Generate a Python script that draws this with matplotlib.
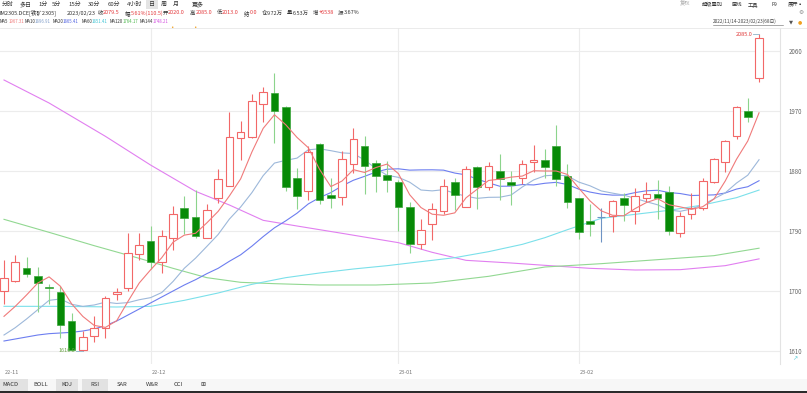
import matplotlib
matplotlib.use('Agg')
import matplotlib.pyplot as plt
from matplotlib.patches import Rectangle

plt.rcParams['font.family'] = ['Noto Sans CJK SC', 'DejaVu Sans']

# IM2305 日线 2022/11/14 - 2023/02/23 (68日)
opens = [1700, 1715, 1735, 1723, 1706, 1698, 1655, 1612, 1632, 1645,
         1695, 1704, 1755, 1775, 1743, 1779, 1825, 1811, 1780, 1839,
         1858, 1929, 1931, 1980, 1997, 1976, 1870, 1850, 1920, 1844,
         1841, 1891, 1917, 1892, 1874, 1864, 1826, 1770, 1801, 1820,
         1863, 1826, 1886, 1856, 1880, 1863, 1869, 1893, 1896, 1918,
         1872, 1839, 1805, 1811, 1813, 1839, 1820, 1840, 1845, 1849,
         1787, 1816, 1825, 1864, 1893, 1933, 1970, 2020]
highs = [1746, 1754, 1751, 1736, 1711, 1708, 1667, 1640, 1662, 1692,
         1704, 1787, 1787, 1797, 1792, 1827, 1842, 1851, 1830, 1883,
         1968, 1955, 1995, 2006, 2027, 1978, 1885, 1917, 1922, 1869,
         1910, 1945, 1933, 1897, 1895, 1866, 1834, 1808, 1832, 1868,
         1869, 1887, 1888, 1893, 1906, 1880, 1896, 1919, 1913, 1949,
         1891, 1840, 1830, 1824, 1836, 1847, 1854, 1864, 1866, 1858,
         1819, 1847, 1869, 1899, 1927, 1977, 1990, 2085]
lows = [1681, 1714, 1721, 1668, 1680, 1629, 1610, 1610, 1624, 1630,
        1686, 1700, 1747, 1733, 1727, 1762, 1785, 1779, 1779, 1832,
        1858, 1897, 1930, 1953, 1922, 1850, 1823, 1836, 1830, 1824,
        1829, 1877, 1845, 1848, 1849, 1790, 1757, 1763, 1777, 1816,
        1822, 1826, 1823, 1852, 1836, 1829, 1860, 1878, 1869, 1857,
        1824, 1778, 1782, 1773, 1788, 1805, 1801, 1833, 1808, 1784,
        1781, 1808, 1822, 1862, 1878, 1928, 1953, 2013]
closes = [1719, 1744, 1726, 1712, 1705, 1649, 1612, 1631, 1645, 1690,
          1699, 1757, 1769, 1743, 1782, 1815, 1810, 1783, 1821, 1868,
          1931, 1938, 1985, 1998, 1970, 1856, 1843, 1908, 1836, 1840,
          1898, 1928, 1887, 1873, 1866, 1826, 1770, 1791, 1823, 1858,
          1844, 1883, 1856, 1888, 1868, 1859, 1891, 1896, 1886, 1868,
          1833, 1789, 1800, 1811, 1835, 1829, 1843, 1845, 1840, 1790,
          1813, 1824, 1865, 1898, 1925, 1976, 1961, 2079.5]

# 均线
ma5 = [1662, 1677, 1694, 1712, 1721.2, 1707.2, 1680.8, 1661.8, 1648.4, 1645.4,
       1655.4, 1684.4, 1712, 1731.6, 1750, 1773.2, 1783.8, 1786.6, 1802.2, 1819.4,
       1842.6, 1868.2, 1908.6, 1944, 1964.4, 1949.4, 1930.4, 1915, 1882.6, 1856.6,
       1865, 1882, 1877.8, 1885.2, 1890.4, 1876, 1844.4, 1825.2, 1815.2, 1813.6,
       1817.2, 1839.8, 1852.8, 1865.8, 1867.8, 1870.8, 1872.4, 1880.4, 1880, 1880,
       1874.8, 1854.4, 1835.2, 1820.2, 1813.6, 1812.8, 1823.6, 1832.6, 1838.4, 1829.4,
       1826.2, 1822.4, 1826.4, 1838, 1865, 1897.6, 1925, 1967.3]
ma10 = [1634, 1645, 1658, 1672, 1686, 1688, 1680, 1677, 1679, 1683.3,
        1681.3, 1682.6, 1686.9, 1690, 1697.7, 1714.3, 1734.1, 1749.3, 1766.9, 1784.7,
        1807.9, 1826, 1847.6, 1873.1, 1891.9, 1896, 1899.3, 1911.8, 1913.3, 1910.5,
        1907.2, 1906.2, 1896.4, 1883.9, 1873.5, 1870.5, 1863.2, 1851.5, 1850.2, 1852,
        1846.6, 1842.1, 1839, 1840.5, 1840.7, 1844, 1856.1, 1866.6, 1872.9, 1873.9,
        1872.8, 1863.4, 1857.8, 1850.1, 1846.8, 1843.8, 1839, 1833.9, 1829.3, 1821.5,
        1819.5, 1823, 1829.5, 1838.2, 1847.2, 1861.9, 1873.7, 1896.9]
ma20 = [1625, 1628, 1631, 1634, 1636, 1637, 1638, 1640, 1643, 1648,
        1655, 1664, 1673, 1682, 1691, 1700, 1709, 1717, 1726, 1734,
        1744.6, 1754.3, 1767.3, 1781.6, 1794.8, 1805.2, 1816.7, 1830.6, 1840.1, 1847.6,
        1857.6, 1866.1, 1872, 1878.5, 1882.7, 1883.3, 1881.3, 1881.7, 1881.8, 1881.3,
        1876.9, 1874.2, 1867.7, 1862.2, 1857.1, 1857.3, 1859.7, 1859.1, 1861.6, 1863,
        1859.7, 1852.8, 1848.4, 1845.3, 1843.8, 1843.9, 1847.6, 1850.3, 1851.1, 1847.7,
        1846.2, 1843.2, 1843.7, 1844.2, 1847, 1852.9, 1856.4, 1865.4]
ma60_idx = [0, 5, 10, 13, 16, 19, 22, 25, 28, 31, 34, 37, 40, 43, 46, 48, 50, 53, 56, 59, 62, 65, 67]
ma60 = [1677, 1677, 1676, 1677, 1686, 1697, 1710, 1720, 1727, 1733, 1738, 1744,
        1750, 1759, 1770, 1780, 1792, 1809, 1815, 1821, 1829, 1840, 1851.4]
ma120_idx = [0, 4, 8, 12, 15, 18, 21, 24, 28, 33, 38, 43, 48, 53, 58, 63, 67]
ma120 = [1807.5, 1788, 1768, 1749, 1734, 1720, 1713, 1711, 1709, 1709, 1712, 1722,
         1736, 1741, 1747, 1753, 1764.2]
ma144_idx = [0, 4, 9, 13, 17, 20, 23, 26, 30, 35, 38, 41, 45, 48, 52, 56, 60, 64, 67]
ma144 = [2016.5, 1982, 1932, 1889, 1849.5, 1829, 1806, 1797.5, 1786.5, 1772.5, 1758,
         1746, 1742, 1738.5, 1734, 1731.5, 1732, 1738, 1748.2]

month_idx = [0, 13, 35, 51]
month_labels = ['22-11', '22-12', '23-01', '23-02']
y_ticks = [1610, 1700, 1790, 1880, 1970, 2060]

RED = '#f26868'
GREEN = '#078a07'
GREEN_WICK = '#8cd48c'
DOJI = '#6e93c4'
C_MA5, C_MA10, C_MA20 = '#f07a7a', '#9db8da', '#6d7ef0'
C_MA60, C_MA120, C_MA144 = '#7be0ea', '#92d892', '#e17ff0'

W, H = 807, 393


def fx(x):
    return x / W


def fy(y):
    return 1 - y / H


fig = plt.figure(figsize=(W / 100, H / 100), dpi=100)
ax = fig.add_axes([0, fy(364), fx(780), (364 - 28) / H])

n = len(closes)
for i in range(n):
    o, h, l, c = opens[i], highs[i], lows[i], closes[i]
    if c > o:
        ax.vlines(i, l, h, color=RED, lw=0.8, zorder=3)
        ax.bar(i, c - o, bottom=o, width=0.68, facecolor='white',
               edgecolor=RED, lw=0.8, zorder=4)
    elif c < o:
        ax.vlines(i, l, h, color=GREEN_WICK, lw=0.8, zorder=3)
        ax.bar(i, o - c, bottom=c, width=0.68, facecolor=GREEN,
               edgecolor='#3aa53a', lw=0.5, zorder=4)
    else:
        ax.vlines(i, l, h, color=DOJI, lw=0.8, zorder=3)
        ax.hlines(c, i - 0.34, i + 0.34, color=DOJI, lw=0.8, zorder=4)

idx = list(range(n))
ax.plot(ma144_idx, ma144, color=C_MA144, lw=0.8, zorder=2)
ax.plot(ma120_idx, ma120, color=C_MA120, lw=0.8, zorder=2)
ax.plot(ma60_idx, ma60, color=C_MA60, lw=0.8, zorder=2)
ax.plot(idx, ma20, color=C_MA20, lw=0.8, zorder=2)
ax.plot(idx, ma10, color=C_MA10, lw=0.8, zorder=2)
ax.plot(idx, ma5, color=C_MA5, lw=0.8, zorder=5)

# 最高/最低标注
ax.text(66.45, max(highs), '%.1f' % max(highs), ha='right', va='center',
        fontsize=4.0, color='#e03b3b', zorder=6)
ax.plot([66.5, 67], [max(highs), max(highs)], color='#8fb3c9', lw=0.6, zorder=6)
ax.text(6.35, min(lows), '%.1f' % min(lows), ha='right', va='center',
        fontsize=4.0, color='#6ea64a', zorder=6)
ax.plot([6.4, 7.0], [min(lows), min(lows)], color='#8fb3c9', lw=0.6, zorder=6)

ax.set_xlim(-0.355, 68.86)
ax.set_ylim(1590.5, 2094.5)
ax.set_yticks(y_ticks)
ax.yaxis.tick_right()
ax.tick_params(axis='y', length=0, pad=6, labelsize=4.4, labelcolor='#666666')
ax.set_xticks([])
for yt in y_ticks:
    ax.axhline(yt, color='#ececec', lw=0.8, zorder=0)
for mi in month_idx[1:]:
    ax.axvline(mi, color='#ececec', lw=0.8, zorder=0)
for s in ['top', 'left', 'bottom']:
    ax.spines[s].set_visible(False)
ax.spines['right'].set_color('#e3e3e3')
ax.spines['right'].set_linewidth(0.8)

for mi, lab in zip(month_idx, month_labels):
    xx = ax.transData.transform((mi, 0))[0] / fig.dpi / fig.get_size_inches()[0]
    fig.text(xx + 0.001, fy(373), lab, fontsize=4.0, color='#777777',
             ha='left', va='center')

# 顶部工具栏
row1 = [('分时', 2), ('多日', 20), ('1分', 38), ('5分', 52), ('15分', 68),
        ('30分', 88), ('60分', 108), ('4小时', 127), ('日', 149), ('周', 161),
        ('月', 173), ('更多', 192)]
fig.patches.append(Rectangle((fx(146), fy(9)), fx(12), 9 / H, transform=fig.transFigure,
                             facecolor='#e4e4e4', edgecolor='none'))
for t, x in row1:
    fig.text(fx(x), fy(4.3), t, fontsize=4.3, color='#333333', ha='left', va='center')
for t, x, col in [('复权', 680, '#aaaaaa'), ('超级叠加', 702, '#333333'), ('画线', 732, '#333333'),
                  ('工具', 748, '#333333'), ('F9', 772, '#333333'), ('展开▪', 788, '#333333')]:
    fig.text(fx(x), fy(4.3), t, fontsize=3.8, color=col, ha='left', va='center')

row2 = [('IM2305.DCE[铁矿2305]', 0, '#333333'), ('2023/02/23', 67, '#333333'),
        ('收', 98, '#333333'), ('2079.5', 103, '#e4393c'),
        ('幅', 125, '#333333'), ('5.61%(110.5)', 131, '#e4393c'),
        ('开', 163, '#333333'), ('2020.0', 168, '#e4393c'),
        ('高', 190, '#333333'), ('2085.0', 196, '#e4393c'),
        ('低', 217, '#333333'), ('2013.0', 222, '#e4393c'),
        ('结', 244, '#333333'), ('0.0', 250, '#e4393c'),
        ('仓', 262, '#333333'), ('9.72万', 267, '#333333'),
        ('量', 287, '#333333'), ('6.53万', 293, '#333333'),
        ('增', 313, '#333333'), ('+6538', 319, '#e4393c'),
        ('振', 338, '#333333'), ('3.67%', 344, '#333333')]
for t, x, col in row2:
    fig.text(fx(x), fy(13), t, fontsize=3.95, color=col, ha='left', va='center')

row3 = [('MA5', 0, '#333333'), ('1967.31', 9, C_MA5),
        ('MA10', 25, '#333333'), ('1896.91', 35, '#7f9cc8'),
        ('MA20', 53, '#333333'), ('1865.41', 63, '#4d5fe0'),
        ('MA60', 82, '#333333'), ('1851.41', 92, '#3ec3d4'),
        ('MA120', 110, '#333333'), ('1764.17', 123, '#4fb84f'),
        ('MA144', 140, '#333333'), ('1748.21', 153, '#d34fe0')]
for t, x, col in row3:
    fig.text(fx(x), fy(21.5), t, fontsize=3.1, color=col, ha='left', va='center')

fig.text(fx(713), fy(21.5), '2022/11/14-2023/02/23(68日)', fontsize=3.4, color='#444444',
         ha='left', va='center')
fig.add_artist(plt.Line2D([fx(713), fx(783)], [fy(25), fy(25)], color='#666666', lw=0.4))
fig.text(fx(789), fy(21.5), '▼', fontsize=3.8, color='#555555', ha='left', va='center',
         family=['DejaVu Sans'])
fig.text(fx(798), fy(21.5), '●', fontsize=3.5, color='#f0a020', ha='left', va='center',
         family=['DejaVu Sans'])
fig.text(fx(801), fy(13), '⚙', fontsize=4.2, color='#888888', ha='center', va='center',
         family=['DejaVu Sans'])
for x in [172, 195]:
    fig.text(fx(x), fy(27), '•', fontsize=4.0, color='#f0a020', ha='center', va='center',
             family=['DejaVu Sans'])
fig.add_artist(plt.Line2D([0, 1], [fy(27.5), fy(27.5)], color='#e8e8e8', lw=0.6))

# 底部指标标签
fig.patches.append(Rectangle((0, fy(391)), 1, 12 / H, transform=fig.transFigure,
                             facecolor='#f7f7f7', edgecolor='none'))
for x0, x1 in [(0, 28), (56, 78), (82, 108)]:
    fig.patches.append(Rectangle((fx(x0), fy(391)), fx(x1 - x0), 12 / H,
                                 transform=fig.transFigure, facecolor='#e2e2e2',
                                 edgecolor='none'))
fig.patches.append(Rectangle((0, 0), 1, 2 / H, transform=fig.transFigure,
                             facecolor='#2b2b2b', edgecolor='none'))
for t, x in [('MACD', 2), ('BOLL', 33), ('KDJ', 61), ('RSI', 90), ('SAR', 117),
             ('W&R', 146), ('CCI', 174), ('⊞', 200)]:
    fig.text(fx(x), fy(385), t, fontsize=4.2, color='#333333', ha='left', va='center')
fig.text(fx(795), fy(359), '↗', fontsize=4.5, color='#5ccbd8', ha='center', va='center',
         family=['DejaVu Sans'])

fig.savefig('out.png', dpi=100)
